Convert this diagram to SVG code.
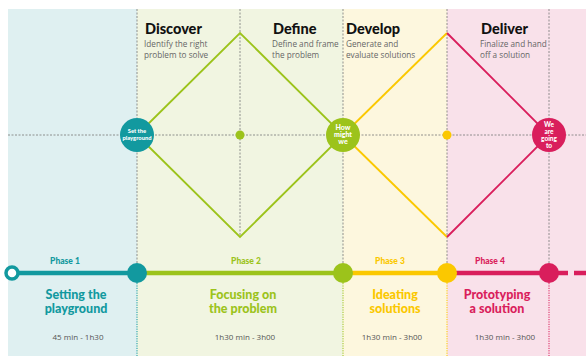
<svg xmlns="http://www.w3.org/2000/svg" width="586" height="356" viewBox="0 0 586 356">
  <defs>
    <style>
      .grid { stroke: #777; stroke-width: 0.8; stroke-dasharray: 2 1.5; fill: none; }
      .dot { stroke-width: 1; stroke-dasharray: 1.2 1.2; fill: none; }
      .head { font-family: Lato, "Liberation Sans", sans-serif; font-weight: 900; font-size: 14.5px; fill: #111; }
      .sub { font-family: "Open Sans", "Liberation Sans", sans-serif; font-size: 8.2px; fill: #666; }
      .phase { font-family: Lato, "Liberation Sans", sans-serif; font-weight: 900; font-size: 8.5px; text-anchor: middle; }
      .title { font-family: Lato, "Liberation Sans", sans-serif; font-weight: 900; font-size: 12.5px; text-anchor: middle; }
      .dur { font-family: "Open Sans", "Liberation Sans", sans-serif; font-size: 8px; fill: #555; text-anchor: middle; }
      .ctext { font-family: Lato, "Liberation Sans", sans-serif; font-weight: 900; fill: #fff; text-anchor: middle; }
      .teal { fill: #12999f; }
      .green { fill: #9cc31b; }
      .yellow { fill: #fbc800; }
      .pink { fill: #d91e5c; }
    </style>
  </defs>

  <!-- background bands -->
  <rect x="0" y="0" width="586" height="356" fill="#ffffff"/>
  <rect x="8" y="9" width="129" height="347" fill="#dff0f1"/>
  <rect x="137" y="9" width="206" height="347" fill="#f1f5e1"/>
  <rect x="343" y="9" width="104" height="347" fill="#fdf7de"/>
  <rect x="447" y="9" width="139" height="347" fill="#f9e1ea"/>

  <!-- guide lines -->
  <g id="guides">
    <line class="grid" x1="8" y1="135" x2="586" y2="135"/>
    <line class="grid" x1="137" y1="9" x2="137" y2="263"/>
    <line class="grid" x1="240" y1="9" x2="240" y2="237"/>
    <line class="grid" x1="343" y1="9" x2="343" y2="263"/>
    <line class="grid" x1="447" y1="9" x2="447" y2="263"/>
    <line class="grid" x1="549" y1="9" x2="549" y2="263"/>
    <line class="dot" stroke="#12999f" x1="137" y1="283" x2="137" y2="356"/>
    <line class="dot" stroke="#9cc31b" x1="343" y1="283" x2="343" y2="356"/>
    <line class="dot" stroke="#fbc800" x1="447" y1="283" x2="447" y2="356"/>
    <line class="dot" stroke="#d91e5c" x1="549" y1="283" x2="549" y2="356"/>
  </g>

  <!-- diamond connectors -->
  <g id="connectors" fill="none" stroke-width="1.8">
    <polyline stroke="#9cc31b" points="137,135 240,33 343,135 240,237 137,135"/>
    <polyline stroke="#fbc800" points="343,135 447,33"/>
    <polyline stroke="#fbc800" points="343,135 447,237"/>
    <polyline stroke="#d91e5c" points="447,33 549,135 447,237"/>
  </g>

  <!-- timeline -->
  <g id="timeline" stroke-width="4.5" fill="none">
    <line stroke="#12999f" x1="17" y1="273" x2="137" y2="273"/>
    <line stroke="#9cc31b" x1="137" y1="273" x2="343" y2="273"/>
    <line stroke="#fbc800" x1="343" y1="273" x2="447" y2="273"/>
    <line stroke="#d91e5c" x1="447" y1="273" x2="568" y2="273"/>
    <line stroke="#d91e5c" x1="574" y1="273" x2="586" y2="273"/>
    <circle cx="12" cy="273" r="6" stroke="#12999f" stroke-width="3.5" fill="#fff"/>
  </g>

  <!-- column headers -->
  <g id="discover">
    <text class="head" x="145" y="34">Discover</text>
    <text class="sub" x="144" y="47">Identify the right</text>
    <text class="sub" x="144" y="58">problem to solve</text>
  </g>
  <g id="define">
    <text class="head" x="273" y="34">Define</text>
    <text class="sub" x="272" y="47">Define and frame</text>
    <text class="sub" x="272" y="58">the problem</text>
  </g>
  <g id="develop">
    <text class="head" x="346" y="34">Develop</text>
    <text class="sub" x="346" y="47">Generate and</text>
    <text class="sub" x="346" y="58">evaluate solutions</text>
  </g>
  <g id="deliver">
    <text class="head" x="481" y="34">Deliver</text>
    <text class="sub" x="480" y="47">Finalize and hand</text>
    <text class="sub" x="480" y="58">off a solution</text>
  </g>

  <!-- diamond nodes -->
  <g id="set-the-playground">
    <circle class="teal" cx="137" cy="135" r="17"/>
    <text class="ctext" x="137" y="133" font-size="5.8">Set the</text>
    <text class="ctext" x="137" y="139.5" font-size="5.8">playground</text>
  </g>
  <g id="define-dot"><circle class="green" cx="240" cy="135" r="4.5"/></g>
  <g id="how-might-we">
    <circle class="green" cx="343" cy="135" r="17"/>
    <text class="ctext" x="343" y="130" font-size="7">How</text>
    <text class="ctext" x="343" y="137" font-size="7">might</text>
    <text class="ctext" x="343" y="144" font-size="7">we</text>
  </g>
  <g id="develop-dot"><circle class="yellow" cx="447" cy="135" r="4.5"/></g>
  <g id="we-are-going-to">
    <circle class="pink" cx="549" cy="135" r="17"/>
    <text class="ctext" x="549" y="127" font-size="6.5">We</text>
    <text class="ctext" x="549" y="134" font-size="6.5">are</text>
    <text class="ctext" x="549" y="141" font-size="6.5">going</text>
    <text class="ctext" x="549" y="148" font-size="6.5">to</text>
  </g>

  <!-- phases -->
  <g id="phase1">
    <circle class="teal" cx="137" cy="273" r="10"/>
    <text class="phase teal" x="65" y="264">Phase 1</text>
    <text class="title teal" x="76" y="299">Setting the</text>
    <text class="title teal" x="76" y="312.5">playground</text>
    <text class="dur" x="78" y="340">45 min - 1h30</text>
  </g>
  <g id="phase2">
    <circle class="green" cx="343" cy="273" r="10"/>
    <text class="phase green" x="246" y="264">Phase 2</text>
    <text class="title green" x="243" y="299">Focusing on</text>
    <text class="title green" x="243" y="312.5">the problem</text>
    <text class="dur" x="245" y="340">1h30 min - 3h00</text>
  </g>
  <g id="phase3">
    <circle class="yellow" cx="447" cy="273" r="10"/>
    <text class="phase yellow" x="390" y="264">Phase 3</text>
    <text class="title yellow" x="395" y="299">Ideating</text>
    <text class="title yellow" x="395" y="312.5">solutions</text>
    <text class="dur" x="392" y="340">1h30 min - 3h00</text>
  </g>
  <g id="phase4">
    <circle class="pink" cx="549" cy="273" r="10"/>
    <text class="phase pink" x="490" y="264">Phase 4</text>
    <text class="title pink" x="497" y="299">Prototyping</text>
    <text class="title pink" x="497" y="312.5">a solution</text>
    <text class="dur" x="505" y="340">1h30 min - 3h00</text>
  </g>
</svg>
